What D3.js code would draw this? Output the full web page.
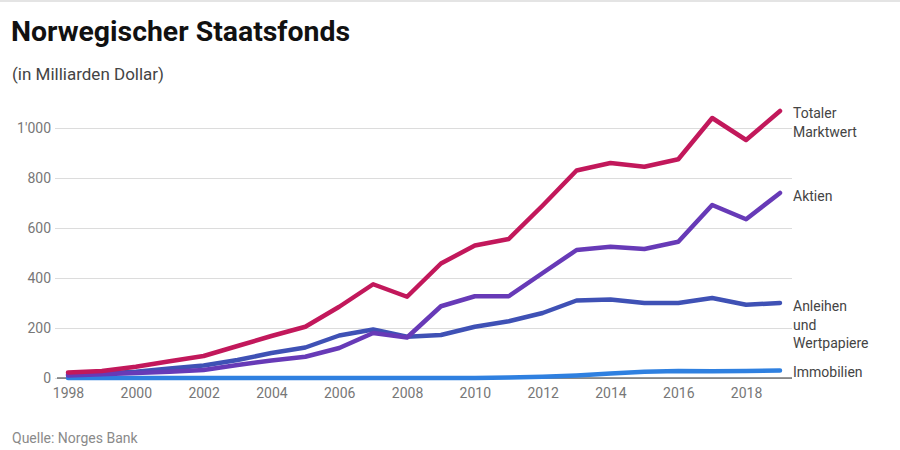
<!DOCTYPE html>
<html><head><meta charset="utf-8">
<script src="https://cdn.jsdelivr.net/npm/d3@7/dist/d3.min.js"></script>
<style>
body{margin:0;background:#fff;font-family:Roboto,"Noto Sans",sans-serif;}
</style></head>
<body><svg id="c" width="900" height="450"></svg>
<script>
const years = d3.range(1998, 2020);
const totalValues = [22,28,45,67,88,128,168,205,285,375,325,458,530,556,690,830,860,845,875,1040,952,1068];
const aktienValues = [10,15,20,25,32,52,70,85,120,180,162,287,327,327,420,512,525,516,545,692,635,740];
const anleihenValues = [15,18,25,38,50,72,100,122,170,194,165,172,205,227,260,310,314,300,300,320,293,300];
const immobilienValues = [0,0,0,0,0,0,0,0,0,0,0,0,0,2,5,10,18,25,28,27,28,30];
const yTicks = [0,200,400,600,800,1000];
const yTickLabels = ["0","200","400","600","800","1'000"];
const xTicks = [1998,2000,2002,2004,2006,2008,2010,2012,2014,2016,2018];
const seriesNames = [["Totaler","Marktwert"],["Aktien"],["Anleihen","und","Wertpapiere"],["Immobilien"]];
const seriesColors = ["#c2185b","#673ab7","#3f51b5","#2f80e0"];

const svg = d3.select("#c");
svg.append("rect").attr("x",0).attr("y",0).attr("width",900).attr("height",2).attr("fill","#e4e4e4");

const x = d3.scaleLinear().domain([1998,2019]).range([68,780]);
const y = d3.scaleLinear().domain([0,1000]).range([378,128]);

svg.append("text").attr("x",11).attr("y",41).attr("font-size",27).attr("font-weight",700)
  .attr("fill","#111").attr("textLength",339).attr("lengthAdjust","spacingAndGlyphs").text("Norwegischer Staatsfonds");
svg.append("text").attr("x",12).attr("y",80).attr("font-size",17)
  .attr("fill","#444").text("(in Milliarden Dollar)");
svg.append("text").attr("x",12).attr("y",443).attr("font-size",14)
  .attr("fill","#8a8a8a").text("Quelle: Norges Bank");

// gridlines
const yAxis = d3.axisLeft(y).tickValues(yTicks).tickSize(-(792-55)).tickFormat((d,i)=>yTickLabels[i]);
const gy = svg.append("g").attr("transform","translate(55,0)").call(yAxis);
gy.select(".domain").remove();
gy.selectAll(".tick line").attr("stroke","#dcdcdc");
gy.selectAll(".tick text").attr("x",-4).attr("font-size",14).attr("fill","#777").attr("font-family","Roboto,sans-serif");

// baseline
svg.append("line").attr("x1",57).attr("x2",792).attr("y1",y(0)).attr("y2",y(0)).attr("stroke","#333").attr("stroke-width",1);

const xAxis = d3.axisBottom(x).tickValues(xTicks).tickSize(0).tickFormat(d3.format("d"));
const gx = svg.append("g").attr("transform",`translate(0,${y(0)})`).call(xAxis);
gx.select(".domain").remove();
gx.selectAll(".tick text").attr("dy",0).attr("y",20).attr("font-size",14).attr("fill","#777").attr("font-family","Roboto,sans-serif");

const allSeries = [totalValues, aktienValues, anleihenValues, immobilienValues];
const line = d3.line().x((d,i)=>x(years[i])).y(d=>y(d));
[3,2,1,0].forEach(k=>{
  svg.append("path").datum(allSeries[k]).attr("d",line).attr("fill","none")
    .attr("stroke",seriesColors[k]).attr("stroke-width",4.5)
    .attr("stroke-linejoin","round").attr("stroke-linecap","round");
});

allSeries.forEach((s,k)=>{
  const yv = y(s[s.length-1]);
  const off = k===0 ? 2 : (k===3 ? 1 : 3);
  const t = svg.append("text").attr("x",793).attr("y",yv+off+5).attr("font-size",14).attr("fill","#444");
  seriesNames[k].forEach((ln,j)=>{
    t.append("tspan").attr("x",793).attr("dy", j===0?0:18.5).text(ln);
  });
});
</script></body></html>
